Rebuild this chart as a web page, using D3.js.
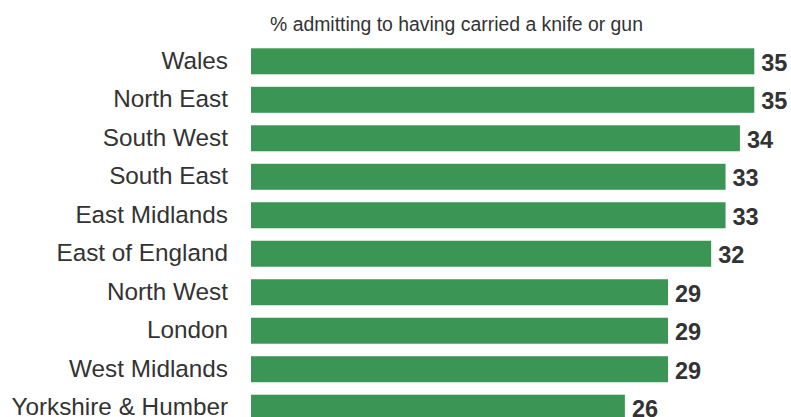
<!DOCTYPE html>
<html>
<head>
<meta charset="utf-8">
<script src="https://cdn.jsdelivr.net/npm/d3@7"></script>
<style>
  html, body { margin: 0; padding: 0; background: #ffffff; overflow: hidden; }
  svg { display: block; }
</style>
</head>
<body>
<svg id="chart" width="791" height="417"></svg>
<script>
// Regions, ordered from highest share to lowest
const regions = [
  "Wales", "North East", "South West", "South East", "East Midlands",
  "East of England", "North West", "London", "West Midlands", "Yorkshire & Humber"
];
// % admitting to having carried a knife or gun
const shares = [35, 35, 34, 33, 33, 32, 29, 29, 29, 26];
const titleText = "% admitting to having carried a knife or gun";

const svg = d3.select("#chart");

const barLeft = 251;
const x = d3.scaleLinear().domain([0, 35]).range([barLeft, 754.3]);

const rowStep = 38.49, barH = 26, pad = 1 - barH / rowStep;
const top0 = 48.3 - rowStep * pad / 2;
const y = d3.scaleBand()
  .domain(regions)
  .range([top0, top0 + regions.length * rowStep])
  .paddingInner(pad)
  .paddingOuter(pad / 2);

const font = "'Liberation Sans', Arial, Helvetica, sans-serif";

// Title above the bars
svg.append("text")
  .attr("x", 270)
  .attr("y", 31)
  .attr("font-family", font)
  .attr("font-size", 19.4)
  .attr("fill", "#333333")
  .text(titleText);

const data = regions.map((r, i) => ({ region: r, value: shares[i] }));

// Bars
svg.append("g").selectAll("rect")
  .data(data)
  .join("rect")
  .attr("x", x(0))
  .attr("y", d => y(d.region))
  .attr("width", d => x(d.value) - x(0))
  .attr("height", y.bandwidth())
  .attr("fill", "#3b9656");

// Category axis labels (no line, no ticks)
const yAxis = d3.axisLeft(y).tickSize(0).tickPadding(0);
const gAxis = svg.append("g")
  .attr("transform", `translate(228,0)`)
  .call(yAxis);
gAxis.select(".domain").remove();
gAxis.selectAll("text")
  .attr("font-family", font)
  .attr("font-size", 24.3)
  .attr("fill", "#333333")
  .attr("dy", "0.3em");

// Value labels at the bar ends
svg.append("g").selectAll("text")
  .data(data)
  .join("text")
  .attr("x", d => x(d.value) + 7)
  .attr("y", d => y(d.region) + y.bandwidth() / 2)
  .attr("dy", "0.4em")
  .attr("font-family", font)
  .attr("font-size", 23.5)
  .attr("font-weight", "bold")
  .attr("fill", "#333333")
  .text(d => d.value);
</script>
</body>
</html>
